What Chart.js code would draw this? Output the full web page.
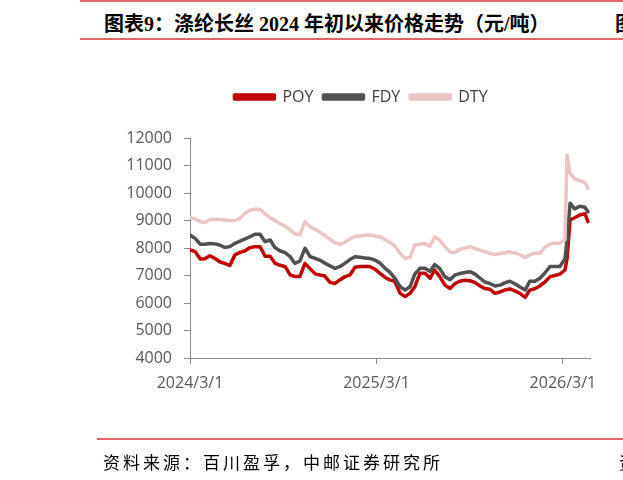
<!DOCTYPE html>
<html><head><meta charset="utf-8">
<script src="https://cdn.jsdelivr.net/npm/chart.js@4"></script>
<style>
html,body{margin:0;padding:0;background:#fff;width:623px;height:480px;overflow:hidden;position:relative;}
canvas{position:absolute;left:0;top:0;}
.rule{position:absolute;height:2px;background:#E06868;}
.t{position:absolute;white-space:nowrap;color:#000;}
</style></head><body>
<div class="rule" style="left:80px;top:0;width:543px"></div>
<div class="t" style="left:104px;top:8px;line-height:24px;font:bold 20px 'Liberation Serif','Noto Sans CJK SC';">图表9：涤纶长丝 2024 年初以来价格走势（元/吨）</div>
<div class="t" style="left:615px;top:8px;line-height:24px;font:bold 20px 'Noto Sans CJK SC';">图</div>
<div class="rule" style="left:80px;top:38px;width:543px"></div>
<canvas id="c" width="623" height="480"></canvas>
<div class="rule" style="left:97px;top:438px;width:526px"></div>
<div class="t" style="left:103px;top:449px;line-height:22px;font:17px 'Noto Sans CJK SC';letter-spacing:3px;">资料来源：百川盈孚，中邮证券研究所</div>
<div class="t" style="left:619px;top:449px;line-height:22px;font:17px 'Noto Sans CJK SC';">资</div>
<script>
const startDate = '2024-03-01';
const dayOffsets = [0,10,20,29,39,49,59,68,78,88,98,108,117,127,137,147,157,166,176,186,196,205,215,225,235,245,254,264,274,284,294,303,313,323,333,342,352,362,372,382,391,401,411,421,431,440,450,460,470,479,489,499,509,519,528,538,548,558,568,577,587,597,607,616,626,636,646,656,665,675,685,695,705,714,724,734,738,744,753,763,773,779];
const seriesNames = ['POY','FDY','DTY'];
const poy = [7930,7870,7600,7610,7720,7620,7490,7440,7360,7750,7840,7900,8010,8050,8050,7700,7700,7450,7370,7330,7020,6960,6960,7440,7250,7060,7020,6980,6750,6710,6850,6950,7020,7300,7330,7330,7330,7230,7080,6930,6840,6790,6360,6230,6360,6590,7080,7080,6900,7200,6960,6650,6530,6710,6790,6830,6810,6740,6620,6530,6500,6350,6400,6470,6510,6440,6350,6200,6470,6520,6620,6770,6960,7000,7050,7200,7600,9020,9100,9200,9250,8960];
const fdy = [8470,8350,8140,8140,8160,8150,8100,8020,8050,8170,8250,8330,8410,8500,8500,8230,8290,8020,7900,7830,7690,7440,7520,7990,7690,7620,7560,7450,7350,7260,7330,7440,7580,7680,7660,7640,7620,7560,7450,7260,7120,6900,6600,6470,6600,7050,7260,7260,7150,7400,7250,6950,6850,7020,7070,7110,7140,7050,6900,6770,6710,6620,6650,6730,6790,6700,6580,6470,6790,6790,6900,7100,7330,7330,7330,7600,8300,9630,9420,9520,9480,9320];
const dty = [9110,9060,8960,8930,9040,9040,9040,9020,9000,9000,9080,9270,9370,9410,9410,9240,9100,9000,8890,8800,8650,8520,8480,8960,8770,8680,8570,8450,8320,8190,8130,8210,8330,8420,8440,8460,8470,8440,8410,8300,8210,8070,7810,7620,7670,8110,8140,8160,8070,8410,8280,8050,7850,7850,7950,8000,8050,7980,7920,7870,7800,7760,7800,7830,7860,7820,7750,7650,7750,7810,7810,8030,8150,8170,8170,8300,11380,10710,10510,10450,10380,10170];
const xTickDays = [0,365,730];
const xTickLabels = ['2024/3/1','2025/3/1','2026/3/1'];
const yMin = 4000, yMax = 12000, yStep = 1000;

const toPts = arr => arr.map((v,i)=>({x:dayOffsets[i], y:v}));
const colors = ['#C00000','#505050','#EBC4C4'];
const values = [poy,fdy,dty];
const font = {family:"'Open Sans'", size:16};

const layoutPlugin = {
  id:'layoutPlugin',
  beforeLayout(chart){
    const lg = chart.legend;
    if (lg && !lg._patched){
      const f = lg.fit.bind(lg);
      lg.fit = function(){ f(); this.height = 138 - 79; };
      lg._patched = true;
    }
  },
  afterLayout(chart){
    const lg = chart.legend;
    if (!lg) return;
    const s = 361 - (lg.left + lg.right)/2;
    lg.left += s; lg.right += s;
  }
};

new Chart(document.getElementById('c'), {
  type:'line',
  data:{
    datasets: seriesNames.map((n,i)=>({
      label:n, data:toPts(values[i]), borderColor:colors[i], backgroundColor:colors[i],
      borderWidth:3.5, pointRadius:0, tension:0, fill:false, order:2-i,
      borderJoinStyle:'round', borderCapStyle:'round'
    }))
  },
  options:{
    responsive:false, animation:false, devicePixelRatio:1,
    layout:{padding:{left:0,right:33,top:79,bottom:0}},
    plugins:{
      legend:{display:true, position:'top', align:'center',
        labels:{boxWidth:40, boxHeight:4, padding:10, color:'#404040', font:font,
          sort:(a,b)=>a.datasetIndex-b.datasetIndex}},
      tooltip:{enabled:false}
    },
    scales:{
      x:{type:'linear', min:0, max:783,
        afterBuildTicks:s=>{ s.ticks = xTickDays.map(v=>({value:v})); },
        ticks:{callback:(v)=>{const k=xTickDays.indexOf(v); return k>=0?xTickLabels[k]:'';}, color:'#595959', font:font, padding:10, maxRotation:0, autoSkip:false},
        grid:{display:true, drawOnChartArea:false, drawTicks:true, tickLength:6, color:'#8C8C8C'},
        border:{display:true, color:'#8C8C8C', width:1},
        afterFit:s=>{ s.height = 122; }
      },
      y:{min:yMin, max:yMax,
        ticks:{stepSize:yStep, color:'#595959', font:font, padding:12, callback:(v)=>String(v)},
        grid:{display:true, drawOnChartArea:false, drawTicks:true, tickLength:6, color:'#8C8C8C'},
        border:{display:true, color:'#8C8C8C', width:1},
        afterFit:s=>{ s.width = 190; }
      }
    }
  },
  plugins:[layoutPlugin]
});
</script>
</body></html>
